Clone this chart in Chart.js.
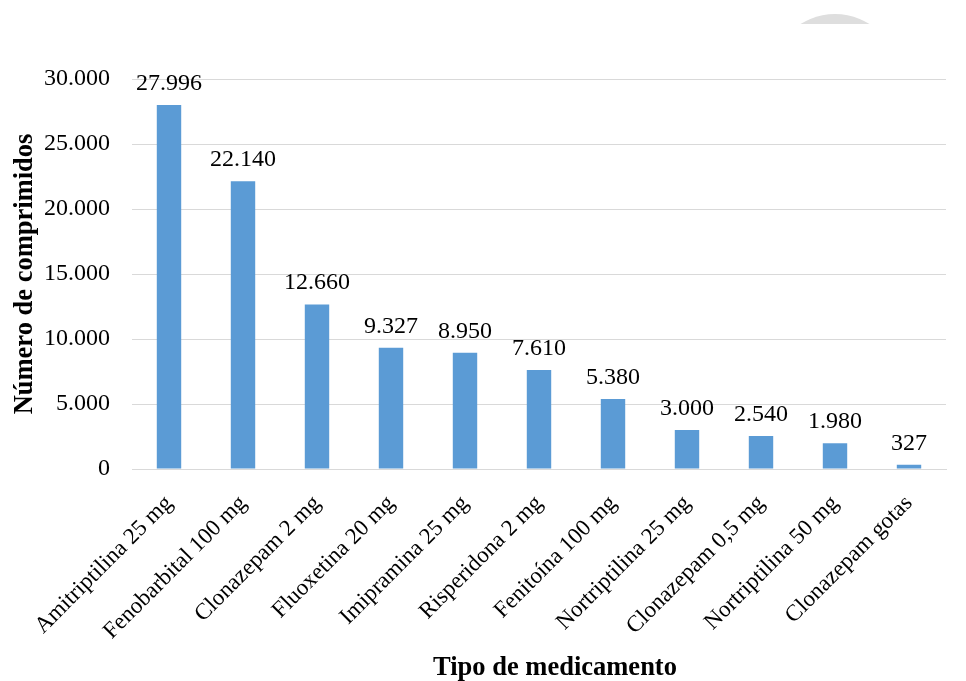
<!DOCTYPE html>
<html><head><meta charset="utf-8">
<script src="https://cdn.jsdelivr.net/npm/chart.js@4/dist/chart.umd.min.js"></script>
<style>html,body{margin:0;padding:0;background:#fff}#w{width:966px;height:681px}</style>
</head><body><div id="w"><canvas id="c"></canvas></div>
<script>
const categories = ["Amitriptilina 25 mg","Fenobarbital 100 mg","Clonazepam 2 mg","Fluoxetina 20 mg","Imipramina 25 mg","Risperidona 2 mg","Fenitoína 100 mg","Nortriptilina 25 mg","Clonazepam 0,5 mg","Nortriptilina 50 mg","Clonazepam gotas"];
const values = [27996,22140,12660,9327,8950,7610,5380,3000,2540,1980,327];
const yTicks = [0,5000,10000,15000,20000,25000,30000];
const yTitle = "Número de comprimidos";
const xTitle = "Tipo de medicamento";

function fmt(v){return String(Math.round(v)).replace(/\B(?=(\d{3})+(?!\d))/g,".");}
const FONT = "'Liberation Serif','Times New Roman',serif";

const labelPlugin = {
  id:'labels',
  afterDatasetsDraw(chart){
    const ctx = chart.ctx;
    const meta = chart.getDatasetMeta(0);
    ctx.save();
    ctx.font = "24px " + FONT;
    ctx.fillStyle = "#000";
    ctx.textAlign = "center";
    ctx.textBaseline = "alphabetic";
    meta.data.forEach((b,i)=>{ ctx.fillText(fmt(values[i]), b.x, b.y - 15); });
    ctx.font = "bold 26.5px " + FONT;
    ctx.textBaseline = "middle";
    ctx.fillText(xTitle, 555, 668);
    ctx.restore();
  }
};
const decoPlugin = {
  id:'deco',
  beforeDraw(chart){
    const ctx = chart.ctx;
    ctx.save();
    ctx.beginPath(); ctx.rect(0,0,966,24); ctx.clip();
    ctx.fillStyle = "#dedede";
    ctx.beginPath(); ctx.arc(835,78.5,64.5,0,Math.PI*2); ctx.fill();
    ctx.restore();
  }
};

new Chart(document.getElementById('c'),{
  type:'bar',
  data:{labels:categories,datasets:[{data:values,backgroundColor:'#5B9BD5',barPercentage:0.66,categoryPercentage:0.5}]},
  options:{
    responsive:true,maintainAspectRatio:false,animation:false,
    layout:{padding:{left:12,right:20,top:79,bottom:0}},
    plugins:{legend:{display:false},tooltip:{enabled:false}},
    scales:{
      x:{
        grid:{display:false,drawTicks:false},
        border:{display:true,color:'#d9d9d9',width:1},
        ticks:{color:'#000',font:{family:FONT,size:23},maxRotation:45,minRotation:45,padding:21,autoSkip:false},
        title:{display:false},
        afterFit(s){s.height=681-469;}
      },
      y:{
        min:0,max:30000,
        afterBuildTicks(s){s.ticks=yTicks.map(v=>({value:v}));},
        grid:{color:'#d9d9d9',drawTicks:false},
        border:{display:false},
        ticks:{color:'#000',font:{family:FONT,size:24},padding:22,callback:v=>fmt(v)},
        title:{display:true,text:yTitle,color:'#000',font:{family:FONT,size:26.5,weight:'bold',lineHeight:1},padding:{top:0,bottom:0}},
        afterFit(s){s.width=132-12;}
      }
    }
  },
  plugins:[labelPlugin,decoPlugin]
});
</script></body></html>
